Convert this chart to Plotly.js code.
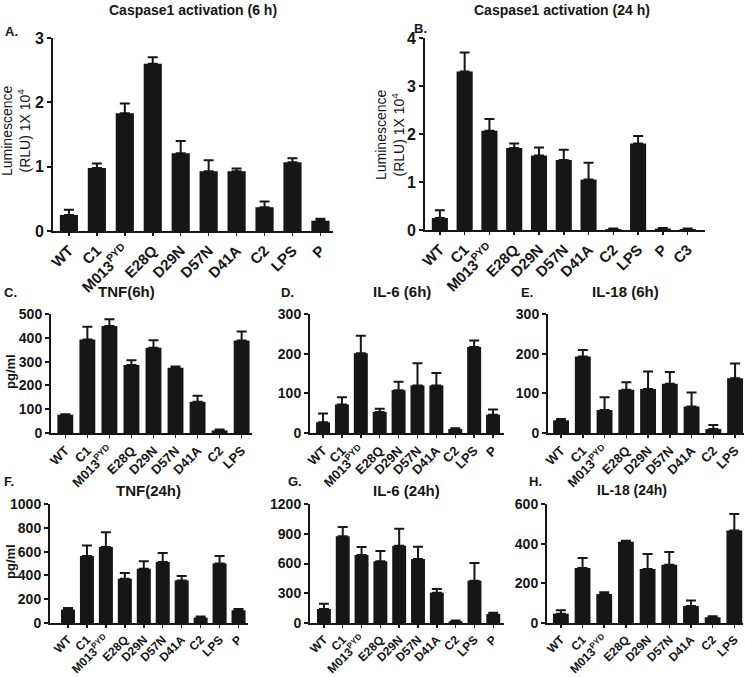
<!DOCTYPE html>
<html><head><meta charset="utf-8">
<script src="https://cdn.plot.ly/plotly-3.0.1.min.js"></script>
<style>html,body{margin:0;padding:0;background:#fff}#chart{width:745px;height:677px}</style>
</head><body><div id="chart"></div>
<script>
// ---- categories ----
const catsA = ['WT','C1','M013<sup>PYD</sup>','E28Q','D29N','D57N','D41A','C2','LPS','P'];
const catsB = ['WT','C1','M013<sup>PYD</sup>','E28Q','D29N','D57N','D41A','C2','LPS','P','C3'];
const catsNoP = ['WT','C1','M013<sup>PYD</sup>','E28Q','D29N','D57N','D41A','C2','LPS'];

// ---- values (mean) and upper error (SEM) ----
const casp6h    = [0.25,0.98,1.83,2.60,1.21,0.93,0.93,0.37,1.07,0.16];
const casp6hErr = [0.08,0.07,0.15,0.10,0.19,0.17,0.04,0.09,0.06,0.03];
const casp24h    = [0.25,3.30,2.07,1.71,1.55,1.46,1.05,0.02,1.80,0.03,0.02];
const casp24hErr = [0.16,0.40,0.24,0.09,0.17,0.21,0.35,0.01,0.16,0.01,0.01];
const tnf6h    = [77,393,450,286,358,274,131,11,389];
const tnf6hErr = [2,53,28,20,32,5,25,4,37];
const il6_6h    = [27,72,201,53,108,120,120,10,217,46];
const il6_6hErr = [22,18,44,8,21,56,31,2,16,13];
const il18_6h    = [32,193,58,109,111,124,67,10,138];
const il18_6hErr = [3,16,32,19,44,30,35,10,37];
const tnf24h    = [113,563,639,372,456,513,358,45,501,107];
const tnf24hErr = [14,88,124,48,62,76,36,9,62,11];
const il6_24h    = [141,874,686,622,780,645,306,17,427,91];
const il6_24hErr = [54,94,80,104,171,125,37,7,178,13];
const il18_24h    = [47,277,146,410,272,294,86,29,466];
const il18_24hErr = [17,51,9,5,76,64,28,5,84];

// ---- layout geometry ----
const W = 745, H = 677;
const fx = x => x / W;
const fy = y => 1 - y / H;
const FONT = 'Arial, "Liberation Sans", Helvetica, sans-serif';
const INK = '#161616';

const panels = [
  {cats:catsA, vals:casp6h, err:casp6hErr, x0:53, x1:333, yt:38, yb:231, xr:[-0.57,9.45], ymax:3, dtick:1, tf:16, cf:15, bw:0.65},
  {cats:catsB, vals:casp24h, err:casp24hErr, x0:425, x1:705, yt:38, yb:230, xr:[-0.6,10.7], ymax:4, dtick:1, tf:16, cf:15, bw:0.65},
  {cats:catsNoP, vals:tnf6h, err:tnf6hErr, x0:51, x1:252, yt:314, yb:433, xr:[-0.65,8.47], ymax:500, dtick:100, tf:14, cf:13, bw:0.72},
  {cats:catsA, vals:il6_6h, err:il6_6hErr, x0:310, x1:504, yt:314, yb:433, xr:[-0.69,9.58], ymax:300, dtick:100, tf:14, cf:13, bw:0.74},
  {cats:catsNoP, vals:il18_6h, err:il18_6hErr, x0:548, x1:744, yt:314, yb:433, xr:[-0.6,8.41], ymax:300, dtick:100, tf:14, cf:13, bw:0.73},
  {cats:catsA, vals:tnf24h, err:tnf24hErr, x0:50, x1:248, yt:504, yb:623, xr:[-0.95,9.5], ymax:1000, dtick:200, tf:14, cf:12, bw:0.74},
  {cats:catsA, vals:il6_24h, err:il6_24hErr, x0:310, x1:504, yt:504, yb:623, xr:[-0.74,9.57], ymax:1200, dtick:300, tf:14, cf:12, bw:0.74},
  {cats:catsNoP, vals:il18_24h, err:il18_24hErr, x0:547, x1:743, yt:504, yb:623, xr:[-0.64,8.4], ymax:600, dtick:200, tf:14, cf:12, bw:0.73}
];

const data = [];
const layout = {
  width: W, height: H,
  margin: {l:0, r:0, t:0, b:0},
  paper_bgcolor: '#fff', plot_bgcolor: 'rgba(0,0,0,0)',
  showlegend: false,
  font: {family: FONT, color: INK},
  annotations: []
};

panels.forEach((p, i) => {
  const n = i + 1;
  const xa = n === 1 ? 'x' : 'x' + n;
  const ya = n === 1 ? 'y' : 'y' + n;
  data.push({
    type: 'bar', x: p.cats, y: p.vals, xaxis: xa, yaxis: ya,
    width: p.bw,
    marker: {color: INK, line: {width: 0}},
    error_y: {type: 'data', symmetric: false, array: p.err, arrayminus: p.err.map(() => 0),
              color: INK, thickness: 2, width: 5},
    hoverinfo: 'skip'
  });
  layout['xaxis' + (n === 1 ? '' : n)] = {
    domain: [fx(p.x0), fx(p.x1)], anchor: ya,
    type: 'category', range: p.xr,
    showline: true, linewidth: 2, linecolor: INK,
    ticks: 'outside', ticklen: 3, tickwidth: 1.5, tickcolor: INK,
    tickangle: -45, showgrid: false, zeroline: false,
    tickfont: {family: FONT, size: p.cf, color: INK, weight: 'bold'},
    fixedrange: true
  };
  layout['yaxis' + (n === 1 ? '' : n)] = {
    domain: [fy(p.yb), fy(p.yt)], anchor: xa,
    range: [0, p.ymax], dtick: p.dtick, tick0: 0,
    showline: true, linewidth: 2, linecolor: INK,
    ticks: 'outside', ticklen: 4, tickwidth: 2, tickcolor: INK,
    showgrid: false, zeroline: false,
    tickfont: {family: FONT, size: p.tf, color: INK, weight: 'bold'},
    fixedrange: true
  };
});

function ann(text, x, y, size, opts) {
  layout.annotations.push(Object.assign({
    text: text, xref: 'paper', yref: 'paper', x: fx(x), y: fy(y),
    xanchor: 'center', yanchor: 'middle', showarrow: false,
    font: {family: FONT, size: size, color: INK, weight: 'bold'}
  }, opts || {}));
}

// titles
ann('Caspase1 activation (6 h)', 193, 10, 14);
ann('Caspase1 activation (24 h)', 562, 10, 14);
ann('TNF(6h)', 127, 291, 15);
ann('IL-6 (6h)', 402, 291, 15);
ann('IL-18 (6h)', 625, 291, 15);
ann('TNF(24h)', 148, 490, 15);
ann('IL-6 (24h)', 406, 490, 15);
ann('IL-18 (24h)', 632, 490, 14);
// panel letters
ann('A.', 11, 32, 13);
ann('B.', 420, 28, 13);
ann('C.', 10, 292, 13);
ann('D.', 287, 292, 13);
ann('E.', 527, 292, 13);
ann('F.', 9, 482, 13);
ann('G.', 295, 482, 13);
ann('H.', 535, 482, 13);
// y titles
const lumTitle = 'Luminescence<br>(RLU) 1X 10<sup>4</sup>';
ann(lumTitle, 16, 131, 14, {textangle: -90, font: {family: FONT, size: 14, color: INK}});
ann(lumTitle, 390, 135, 14, {textangle: -90, font: {family: FONT, size: 14, color: INK}});
ann('pg/ml', 10, 372, 13, {textangle: -90});
ann('pg/ml', 10, 562, 13, {textangle: -90});

Plotly.newPlot('chart', data, layout, {staticPlot: true, displayModeBar: false});
</script>
</body></html>
